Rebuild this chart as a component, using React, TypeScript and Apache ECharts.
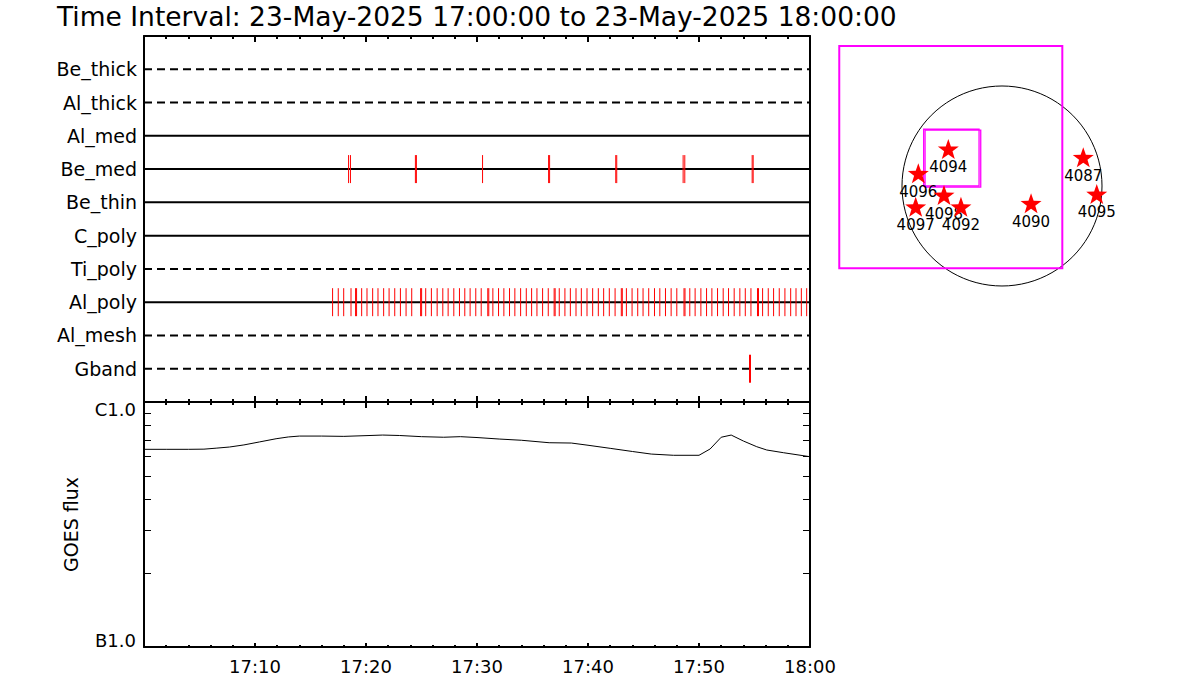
import React, { useEffect, useRef } from "react";
import * as echarts from "echarts";

// ---------- data ----------
const titleText = "Time Interval: 23-May-2025 17:00:00 to 23-May-2025 18:00:00";

const rowNames = ["Be_thick", "Al_thick", "Al_med", "Be_med", "Be_thin", "C_poly", "Ti_poly", "Al_poly", "Al_mesh", "Gband"];

// event times in minutes after 17:00
const beMedTimes = [18.43, 18.6, 24.45, 24.54, 30.5, 36.45, 36.54, 42.5, 42.59, 48.57, 48.72, 54.79, 54.88];
const alPolyTimes = [
  16.99, 17.5, 17.99, 18.65, 19.06, 19.15, 19.61, 20.09, 20.6, 21.08, 21.59, 22.08, 22.59, 23.1, 23.61, 24.12,
  24.92, 25.01, 25.38, 25.89, 26.41, 26.92, 27.4, 27.91, 28.42, 28.9, 29.38, 29.89, 30.38, 30.97, 31.06, 31.43,
  31.94, 32.42, 32.93, 33.41, 33.93, 34.44, 34.92, 35.4, 35.91, 36.42, 36.95, 37.04, 37.41, 37.92, 38.41, 38.92,
  39.4, 39.91, 40.42, 40.93, 41.41, 41.92, 42.44, 43.0, 43.09, 43.46, 43.97, 44.48, 44.96, 45.47, 45.99, 46.47,
  46.98, 47.49, 48.0, 48.65, 48.74, 49.17, 49.65, 50.17, 50.68, 51.16, 51.67, 52.18, 52.66, 53.17, 53.68, 54.17,
  54.68, 55.27, 55.36, 55.73, 56.24, 56.72, 57.23, 57.74, 58.26, 58.74, 59.22, 59.7,
];
const gbandTimes = [54.55, 54.64];

const timeTickLabels = ["", "17:10", "17:20", "17:30", "17:40", "17:50", "18:00"];

// GOES flux (W/m^2)
const goesTimes = [0, 2, 4, 5.4, 6.5, 7.7, 9, 10.4, 11.9, 13, 14, 16, 18, 20, 21.5, 23, 25, 27, 28.5, 30, 32, 34, 36.5, 38.5, 40, 42, 44, 45.7, 47.7, 50, 51, 52, 52.9, 54, 55.2, 56.1, 57.6, 60];
const goesFlux = [
  6.41e-7, 6.41e-7, 6.41e-7, 6.42e-7, 6.48e-7, 6.55e-7, 6.68e-7, 6.87e-7, 7.08e-7, 7.2e-7, 7.26e-7, 7.26e-7, 7.24e-7,
  7.29e-7, 7.33e-7, 7.3e-7, 7.22e-7, 7.18e-7, 7.22e-7, 7.16e-7, 7.06e-7, 6.98e-7, 6.82e-7, 6.8e-7, 6.66e-7, 6.47e-7,
  6.28e-7, 6.13e-7, 6.06e-7, 6.06e-7, 6.43e-7, 7.18e-7, 7.33e-7, 6.93e-7, 6.57e-7, 6.37e-7, 6.21e-7, 5.98e-7,
];
const goesMinorTickFlux = [2e-7, 3e-7, 4e-7, 5e-7, 6e-7, 7e-7, 8e-7, 9e-7];
const goesLabelFlux = [1e-7, 1e-6];
const goesLabels = ["B1.0", "C1.0"];

// solar map (arcsec)
const sunCenter = [0, 0];
const sunRadiusArcsec = 950;
const regionNames = ["4087", "4090", "4094", "4095", "4096", "4098", "4097", "4092"];
const regionX = [772, 276, -510, 900, -795, -551, -820, -390];
const regionY = [273, -164, 352, -76, 121, -86, -197, -197];
const fovBoxes = [
  [-1546, -782, 573, 1330],
  [-744, 0, -218, 539],
  [-731, -10, -202, 530],
];

// ---------- styles ----------
const FONT = "DejaVu Sans";
const dashedRows = new Set(["Be_thick", "Al_thick", "Ti_poly", "Al_mesh", "Gband"]);
const starPath =
  "path://M50,0L61.76,33.82L97.55,34.55L69.02,56.18L79.39,90.45L50,70L20.61,90.45L30.98,56.18L2.45,34.55L38.24,33.82Z";

function timeAxis(gridIndex: number, position: string, showLabels: boolean, majorLen: number, minorLen: number) {
  return {
    type: "value",
    gridIndex,
    position,
    min: 0,
    max: 60,
    interval: 10,
    axisLine: { show: true, onZero: false, lineStyle: { color: "#000", width: 2 } },
    axisTick: { show: true, inside: true, length: majorLen, lineStyle: { color: "#000", width: 2 } },
    minorTick: { show: true, splitNumber: 5, length: minorLen, lineStyle: { color: "#000", width: 2 } },
    splitLine: { show: false },
    minorSplitLine: { show: false },
    axisLabel: showLabels
      ? {
          show: true,
          margin: 10,
          color: "#000",
          fontSize: 18,
          fontFamily: FONT,
          formatter: (v: number) => timeTickLabels[Math.round(v / 10)] ?? "",
        }
      : { show: false },
  };
}

const logMinor = goesMinorTickFlux.map((f) => Math.log10(f));
const logLabels = goesLabelFlux.map((f) => Math.log10(f));

function fluxAxis(position: string, showLabels: boolean, withName: boolean) {
  return {
    type: "value",
    gridIndex: 1,
    position,
    min: logLabels[0],
    max: logLabels[1],
    axisLine: { show: true, onZero: false, lineStyle: { color: "#000", width: 2 } },
    axisTick: { show: true, inside: true, length: 7, customValues: logMinor, lineStyle: { color: "#000", width: 1 } },
    splitLine: { show: false },
    axisLabel: showLabels
      ? {
          show: true,
          customValues: logLabels,
          margin: 8,
          color: "#000",
          fontFamily: FONT,
          fontSize: 18,
          formatter: (v: number) => {
            const idx = Math.abs(v - logLabels[0]) < 0.01 ? 0 : 1;
            return idx === 1 ? `{t|${goesLabels[idx]}}` : `{b|${goesLabels[idx]}}`;
          },
          rich: {
            t: { padding: [14, 0, 0, 0], fontSize: 18, fontFamily: FONT, color: "#000" },
            b: { padding: [0, 0, 13, 0], fontSize: 18, fontFamily: FONT, color: "#000" },
          },
        }
      : { show: false },
    name: withName ? "GOES flux" : "",
    nameLocation: "middle",
    nameRotate: 90,
    nameGap: 64,
    nameTextStyle: { color: "#000", fontSize: 19, fontFamily: FONT },
  };
}

export default function App() {
  const ref = useRef<HTMLDivElement>(null);
  useEffect(() => {
    document.body.style.margin = "0";
    const chart = echarts.init(ref.current!, null, { renderer: "svg" });

    const rowLineSeries = rowNames.map((name, i) => ({
      type: "line",
      xAxisIndex: 0,
      yAxisIndex: 0,
      silent: true,
      symbol: "none",
      z: 2,
      data: [
        [0, i + 1],
        [60, i + 1],
      ],
      lineStyle: { color: "#000", width: 2, type: dashedRows.has(name) ? [8, 5] : "solid" },
    }));

    const eventSets: [string, number[]][] = [
      ["Be_med", beMedTimes],
      ["Al_poly", alPolyTimes],
      ["Gband", gbandTimes],
    ];
    const eventSeries = eventSets.map(([name, times]) => ({
      type: "custom",
      xAxisIndex: 0,
      yAxisIndex: 0,
      silent: true,
      z: 3,
      data: times.map((t) => [t, rowNames.indexOf(name) + 1]),
      renderItem: (params: any, api: any) => {
        const p = api.coord([api.value(0), api.value(1)]);
        return {
          type: "line",
          shape: { x1: p[0], y1: p[1] - 14, x2: p[0], y2: p[1] + 14 },
          style: { stroke: "#ff0000", lineWidth: 1 },
        };
      },
    }));

    const goesSeries = {
      type: "line",
      xAxisIndex: 2,
      yAxisIndex: 2,
      silent: true,
      symbol: "none",
      data: goesTimes.map((t, i) => [t, Math.log10(goesFlux[i])]),
      lineStyle: { color: "#000", width: 1 },
    };

    const limbSeries = {
      type: "custom",
      xAxisIndex: 4,
      yAxisIndex: 4,
      silent: true,
      z: 2,
      data: [[sunCenter[0], sunCenter[1], sunRadiusArcsec]],
      renderItem: (params: any, api: any) => {
        const c = api.coord([api.value(0), api.value(1)]);
        const s = api.size([api.value(2), api.value(2)]);
        return {
          type: "circle",
          shape: { cx: c[0], cy: c[1], r: s[0] },
          style: { fill: "none", stroke: "#000", lineWidth: 1 },
        };
      },
    };

    const fovSeries = {
      type: "custom",
      xAxisIndex: 4,
      yAxisIndex: 4,
      silent: true,
      z: 3,
      data: fovBoxes,
      renderItem: (params: any, api: any) => {
        const p0 = api.coord([api.value(0), api.value(3)]);
        const p1 = api.coord([api.value(2), api.value(1)]);
        return {
          type: "rect",
          shape: { x: p0[0], y: p0[1], width: p1[0] - p0[0], height: p1[1] - p0[1] },
          style: { fill: "none", stroke: "#ff00ff", lineWidth: params.dataIndex === 0 ? 2 : 1.3 },
        };
      },
    };

    const starSeries = regionNames.map((name, i) => ({
      type: "scatter",
      xAxisIndex: 4,
      yAxisIndex: 4,
      silent: true,
      z: 5 + i,
      data: [[regionX[i], regionY[i], name]],
      symbol: starPath,
      symbolSize: 21,
      symbolKeepAspect: true,
      itemStyle: { color: "#ff0000", opacity: 1 },
      label: {
        show: true,
        position: "bottom",
        distance: 3,
        lineHeight: 11,
        formatter: (p: any) => p.value[2],
        color: "#000",
        fontSize: 15,
        fontFamily: FONT,
      },
    }));

    const option: any = {
      animation: false,
      backgroundColor: "#fff",
      textStyle: { fontFamily: FONT },
      title: {
        text: titleText,
        left: 57,
        top: 3,
        padding: 0,
        textStyle: { fontSize: 26.5, fontWeight: "normal", color: "#000", fontFamily: FONT },
      },
      grid: [
        { left: 144, top: 36, width: 666, height: 366 },
        { left: 144, top: 402, width: 666, height: 245 },
        { left: 832, top: 36, width: 300, height: 300 },
      ],
      xAxis: [
        timeAxis(0, "bottom", false, 6, 3),
        timeAxis(0, "top", false, 6, 3),
        timeAxis(1, "bottom", true, 4, 2),
        timeAxis(1, "top", false, 6, 3),
        { type: "value", gridIndex: 2, min: -1615, max: 1235, show: false },
      ],
      yAxis: [
        {
          type: "value",
          gridIndex: 0,
          min: 0,
          max: 11,
          inverse: true,
          axisLine: { show: true, onZero: false, lineStyle: { color: "#000", width: 2 } },
          axisTick: { show: false },
          splitLine: { show: false },
          axisLabel: {
            show: true,
            customValues: rowNames.map((_, i) => i + 1),
            formatter: (v: number) => rowNames[Math.round(v) - 1] ?? "",
            color: "#000",
            fontSize: 19,
            fontFamily: FONT,
            margin: 7,
          },
        },
        {
          type: "value",
          gridIndex: 0,
          position: "right",
          min: 0,
          max: 11,
          axisLine: { show: true, onZero: false, lineStyle: { color: "#000", width: 2 } },
          axisTick: { show: false },
          splitLine: { show: false },
          axisLabel: { show: false },
        },
        fluxAxis("left", true, true),
        fluxAxis("right", false, false),
        { type: "value", gridIndex: 2, min: -1425, max: 1425, show: false },
      ],
      series: [...rowLineSeries, ...eventSeries, goesSeries, limbSeries, fovSeries, ...starSeries],
    };

    chart.setOption(option);
    return () => chart.dispose();
  }, []);
  return <div ref={ref} style={{ width: 1200, height: 700 }} />;
}
